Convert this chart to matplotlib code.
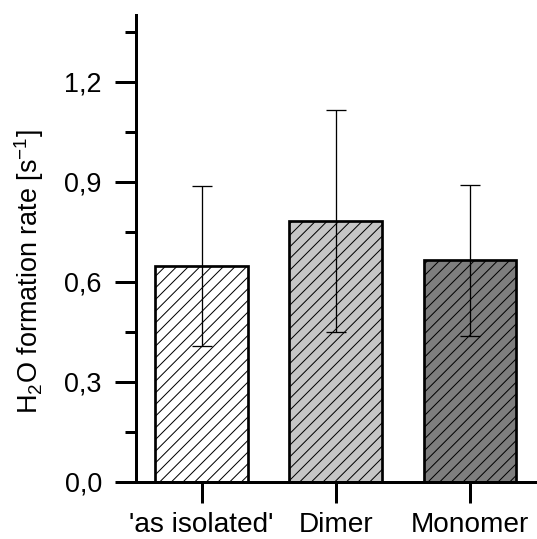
import numpy as np
import matplotlib.pyplot as plt
from matplotlib.ticker import MultipleLocator, FuncFormatter

DPI = 70
PX = 72 / DPI  # points per pixel

plt.rcParams['font.family'] = ['Liberation Sans', 'DejaVu Sans']
plt.rcParams['hatch.linewidth'] = 1.0 * PX
plt.rcParams['mathtext.fontset'] = 'custom'
plt.rcParams['mathtext.rm'] = 'Liberation Sans'

# data
labels = ["'as isolated'", 'Dimer', 'Monomer']
rates = [0.647, 0.782, 0.664]
errors = [0.239, 0.333, 0.226]
fills = ['white', '#c6c6c6', '#7e7e7e']

fig = plt.figure(figsize=(537 / DPI, 539 / DPI), dpi=DPI)
ax = fig.add_axes([0.253, 0.106, 0.747, 0.866])

x = np.arange(len(labels))
ax.bar(x, rates, width=0.69, color=fills, edgecolor='black', linewidth=2.7 * PX,
       hatch='//', zorder=2)
ax.errorbar(x, rates, yerr=errors, fmt='none', ecolor='black',
            elinewidth=1.3 * PX, capsize=10 * PX, capthick=1.3 * PX, zorder=3)

ax.set_xlim(-0.49, 2.5)
ax.set_ylim(0, 1.4)
ax.set_xticks(x)
ax.set_xticklabels(labels)
ax.yaxis.set_major_locator(MultipleLocator(0.3))
ax.yaxis.set_minor_locator(MultipleLocator(0.15))
ax.yaxis.set_major_formatter(FuncFormatter(lambda v, p: f'{v:.1f}'.replace('.', ',')))

for s in ['top', 'right']:
    ax.spines[s].set_visible(False)
for s in ['left', 'bottom']:
    ax.spines[s].set_linewidth(3 * PX)

ax.tick_params(axis='both', which='major', direction='out', length=21 * PX,
               width=3 * PX, pad=13 * PX)
ax.tick_params(axis='x', which='major', pad=9 * PX, labelsize=28 * PX)
ax.tick_params(axis='y', which='major', labelsize=27 * PX)
ax.tick_params(axis='y', which='minor', direction='out', length=11 * PX, width=3 * PX)

ax.set_ylabel(r'H$_\mathrm{2}$O formation rate [s$^\mathrm{-1}$]', fontsize=27 * PX)
ax.yaxis.set_label_coords(-0.224, 0.45)

plt.savefig('out.png', dpi=DPI)
